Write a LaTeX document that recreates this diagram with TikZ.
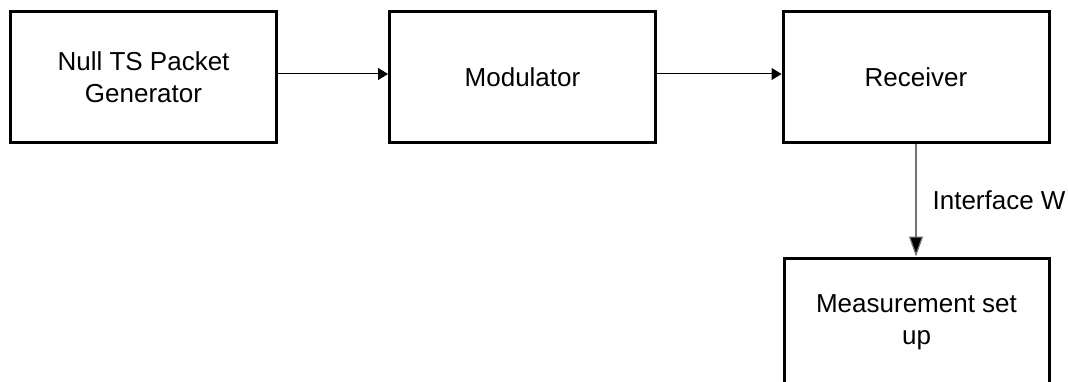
\documentclass[tikz,border=0pt]{standalone}
\usepackage{fontspec}
\setmainfont{Liberation Sans}
\usetikzlibrary{arrows.meta}
\begin{document}
\begin{tikzpicture}[x=1pt,y=-1pt,
  blk/.style={draw, line width=3pt, rectangle, inner sep=0pt, align=center,
    minimum width=266pt, font=\fontsize{26}{32}\selectfont},
  arr/.style={line width=1pt, -{Triangle[length=10pt,width=12pt]}},
  varr/.style={line width=1.2pt, draw=black!55, -{Triangle[length=20pt,width=14pt,fill=black]}},
  lbl/.style={font=\fontsize{26}{32}\selectfont, inner sep=0pt}]
\useasboundingbox (0,0) rectangle (1068,382);
\clip (0,0) rectangle (1068,382);
\node[blk, minimum height=131pt] (gen) at (143.5,77.5) {Null TS Packet\\Generator};
\node[blk, minimum height=131pt] (mod) at (522.5,77.5) {Modulator};
\node[blk, minimum height=131pt] (rec) at (916,77.5) {Receiver};
\node[blk, minimum height=128pt, minimum width=265pt] (meas) at (916.5,322) {Measurement set\\up};
\draw[arr] ([yshift=3.5pt]gen.east) -- ([yshift=3.5pt]mod.west);
\draw[arr] ([yshift=3.5pt]mod.east) -- ([yshift=3.5pt]rec.west);
\draw[varr] (rec.south) -- (rec.south |- meas.north)
  node[lbl, midway, right=16pt, text=black] (ifw) {Interface W};
\end{tikzpicture}
\end{document}
